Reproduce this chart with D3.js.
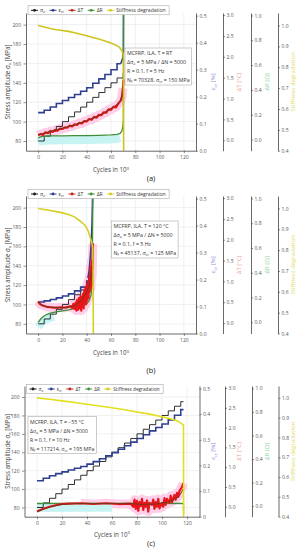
<!DOCTYPE html>
<html>
<head>
<meta charset="utf-8">
<script src="https://cdn.jsdelivr.net/npm/d3@7"></script>
<style>
body { margin: 0; background: #fff; }
svg { display: block; }
</style>
</head>
<body>
<svg id="fig" width="301" height="550"></svg>
<script>
// shared axes
const cycleTicks = [0, 20, 40, 60, 80, 100, 120];
const stressTicks = [80, 100, 120, 140, 160, 180, 200];
const strainTicks = [0, 0.1, 0.2, 0.3, 0.4, 0.5];
const tempTicks = [0, 0.5, 1, 1.5, 2, 2.5, 3];
const resTicks = [0, 0.2, 0.4, 0.6, 0.8, 1];
const stiffTicks = [0.4, 0.5, 0.6, 0.7, 0.8, 0.9, 1];
const legendLabels = ["σ_{a}", "ε_{cr}", "ΔT", "ΔR", "Stiffness degradation"];
const rightTitles = ["ε_{cr} [%]", "ΔT [°C]", "ΔR [Ω]", "Stiffness degradation"];
const blockSize = 5; // 10^3 cycles per load step

// (a) T = RT
const infoA = ["MCFRP, ILA, T = RT", "Δσ_{a} = 5 MPa / ΔN = 5000", "R = 0.1, f = 5 Hz", "N_{f} = 70328, σ_{cr} = 150 MPa"];
const failA = 70.33;
const stressA = [80, 85, 90, 95, 100, 105, 110, 115, 120, 125, 130, 135, 140, 145, 150];
const strainA = [0.141, 0.150, 0.162, 0.175, 0.186, 0.197, 0.208, 0.220, 0.233, 0.250, 0.266, 0.282, 0.300, 0.322];
const strainTailA = [[68, 0.322], [69.5, 0.34], [70.2, 0.37], [70.33, 0.56]];
const tempRawA = [[0, 0.12], [2, 0.15], [4, 0.13], [6, 0.19], [8, 0.17], [10, 0.22], [12, 0.2], [14, 0.25], [16, 0.23], [18, 0.28], [20, 0.27], [22, 0.31], [24, 0.3], [26, 0.35], [28, 0.33], [30, 0.38], [32, 0.37], [34, 0.42], [36, 0.4], [38, 0.46], [40, 0.45], [42, 0.51], [44, 0.49], [46, 0.56], [48, 0.54], [50, 0.61], [52, 0.6], [54, 0.67], [56, 0.66], [58, 0.74], [60, 0.73], [62, 0.8], [64, 0.79], [66, 0.88], [68, 0.95], [69, 1.05], [69.8, 1.25], [70.3, 1.45]];
const tempSmoothA = [[0, 0.13], [10, 0.21], [20, 0.29], [30, 0.37], [40, 0.47], [50, 0.59], [60, 0.76], [65, 0.86], [68, 0.95], [69.5, 1.1], [70.3, 1.4]];
const resA = [[0, 0.012], [2, 0.022], [5, 0.027], [10, 0.029], [20, 0.03], [30, 0.031], [40, 0.032], [50, 0.034], [60, 0.037], [65, 0.042], [67.5, 0.05], [69, 0.07], [69.8, 0.11], [70.2, 0.16], [70.33, 1.1]];
const stiffA = [[0, 1.0], [5, 0.993], [10, 0.986], [15, 0.98], [20, 0.976], [25, 0.972], [30, 0.965], [35, 0.958], [40, 0.951], [45, 0.943], [50, 0.935], [55, 0.926], [60, 0.916], [64, 0.906], [67, 0.895], [69, 0.88], [70, 0.862], [70.3, 0.83], [70.45, 0.3]];

// (b) T = 120 °C
const infoB = ["MCFRP, ILA, T = 120 °C", "Δσ_{a} = 5 MPa / ΔN = 5000", "R = 0.1, f = 5 Hz", "N_{f} = 45137, σ_{cr} = 125 MPa"];
const failB = 45.14;
const stressB = [80, 85, 90, 95, 100, 105, 110, 115, 120, 125];
const strainB = [0.117, 0.121, 0.126, 0.132, 0.139, 0.147, 0.158, 0.172, 0.195];
const strainTailB = [[41, 0.205], [42, 0.235], [42.7, 0.27], [43.5, 0.32], [44.3, 0.4], [45.14, 0.56]];
const tempRawB = [[0, 0.52], [1, 0.47], [2, 0.45], [3, 0.43], [5, 0.41], [7, 0.39], [10, 0.38], [13, 0.37], [16, 0.37], [19, 0.38], [22, 0.37], [25, 0.39], [27, 0.41], [28, 0.36], [29, 0.46], [30, 0.34], [31, 0.5], [31.5, 0.3], [32, 0.55], [33, 0.32], [33.5, 0.6], [34, 0.36], [35, 0.65], [35.5, 0.3], [36, 0.62], [36.5, 0.4], [37, 0.7], [37.5, 0.35], [38, 0.78], [38.5, 0.5], [39, 0.85], [39.5, 0.45], [40, 0.9], [40.5, 0.55], [41, 1.0], [41.5, 0.6], [42, 1.1], [42.5, 0.75], [43, 1.35], [43.5, 0.85], [44, 1.5], [44.5, 1.1], [45, 1.9], [45.1, 1.3]];
const tempSmoothB = [[0, 0.51], [3, 0.44], [6, 0.4], [10, 0.38], [15, 0.37], [20, 0.37], [25, 0.38], [30, 0.42], [34, 0.5], [37, 0.6], [40, 0.75], [42, 0.9], [43.5, 1.1], [44.5, 1.35], [45, 1.7]];
const resB = [[0, 0.0], [2, 0.025], [4, 0.045], [7, 0.063], [10, 0.074], [13, 0.081], [16, 0.086], [20, 0.093], [25, 0.1], [30, 0.112], [35, 0.126], [38, 0.138], [40, 0.15], [42, 0.175], [43.5, 0.22], [44.5, 0.33], [45.14, 1.1]];
const stiffB = [[0, 1.0], [5, 0.995], [10, 0.99], [15, 0.985], [20, 0.979], [25, 0.971], [30, 0.96], [34.5, 0.94], [38.6, 0.92], [41, 0.895], [42.7, 0.865], [44, 0.84], [45, 0.81], [45.3, 0.66], [45.5, 0.3]];

// (c) T = -55 °C
const infoC = ["MCFRP, ILA, T = −55 °C", "Δσ_{a} = 5 MPa / ΔN = 5000", "R = 0.1, f = 10 Hz", "N_{f} = 117214, σ_{cr} = 195 MPa"];
const failC = 117.2;
const stressC = [80, 85, 90, 95, 100, 105, 110, 115, 120, 125, 130, 135, 140, 145, 150, 155, 160, 165, 170, 175, 180, 185, 190, 195];
const strainC = [0.140, 0.150, 0.160, 0.168, 0.175, 0.182, 0.189, 0.196, 0.205, 0.215, 0.226, 0.238, 0.250, 0.263, 0.277, 0.291, 0.305, 0.320, 0.335, 0.348, 0.362, 0.378, 0.396, 0.418];
const strainTailC = [];
const tempRawC = [[0, -0.12], [5, -0.05], [10, 0.0], [15, 0.04], [20, 0.07], [25, 0.08], [35, 0.09], [45, 0.07], [55, 0.09], [65, 0.07], [75, 0.08], [77, 0.0], [78, 0.18], [79, -0.05], [80, 0.15], [81, -0.1], [82, 0.12], [83, 0.02], [84, 0.2], [85, -0.08], [86, 0.1], [87, 0.0], [88, 0.16], [89, -0.12], [90, 0.1], [92, 0.05], [93, 0.18], [94, -0.05], [95, 0.12], [96, 0.0], [97, 0.2], [98, -0.04], [100, 0.1], [101, 0.0], [102, 0.22], [103, 0.05], [104, 0.2], [106, 0.1], [107, 0.28], [108, 0.12], [110, 0.3], [111, 0.18], [112, 0.35], [113, 0.25], [114, 0.4], [115, 0.45], [116, 0.5], [117, 0.6]];
const tempSmoothC = [[0, -0.12], [5, -0.06], [10, -0.01], [15, 0.03], [20, 0.06], [25, 0.07], [30, 0.08], [50, 0.08], [75, 0.08], [85, 0.06], [95, 0.07], [105, 0.12], [110, 0.18], [114, 0.28], [117, 0.45]];
const resC = [[0, 0.022], [30, 0.024], [60, 0.024], [90, 0.023], [117.2, 0.022], [117.25, -0.06]];
const stiffC = [[0, 1.0], [10, 0.993], [20, 0.985], [30, 0.977], [40, 0.968], [50, 0.959], [60, 0.95], [70, 0.94], [80, 0.929], [90, 0.918], [100, 0.905], [105, 0.897], [110, 0.888], [113, 0.881], [116, 0.869], [117.2, 0.862], [117.3, 0.3]];

const font = "'Open Sans', 'DejaVu Sans', sans-serif";
const legendColors = ["#1a1a1a", "#2e3f91", "#c0281c", "#3f8f3a", "#d6cc1e"];
const titleColors = ["#8d91db", "#eda49c", "#8fd49a", "#e4da5a"];
const titleX = [213, 239, 267, 293];

const svg = d3.select("#fig").attr("font-family", font);

// writes "x_{sub}" / "x^{sup}" into tspans
function rich(sel, str, size) {
    const re = /([_^])\{([^}]*)\}/g;
    let last = 0, shift = 0, m;
    while ((m = re.exec(str))) {
        if (m.index > last) {
            sel.append("tspan").attr("dy", -shift).text(str.slice(last, m.index));
            shift = 0;
        }
        const s = m[1] === "_" ? size * 0.28 : -size * 0.4;
        sel.append("tspan").attr("font-size", size * 0.7).attr("dy", s - shift).text(m[2]);
        shift = s;
        last = re.lastIndex;
    }
    if (last < str.length) sel.append("tspan").attr("dy", -shift).text(str.slice(last));
}

function stepPoints(levels, stopAt) {
    const pts = [];
    levels.forEach((v, i) => {
        if (i * blockSize < stopAt) pts.push([i * blockSize, v]);
    });
    pts.push([stopAt, pts[pts.length - 1][1]]);
    return pts;
}

function styleAxis(sel, fs) {
    sel.select(".domain").attr("stroke", "#444").attr("stroke-width", 0.8);
    sel.selectAll(".tick line").attr("stroke", "#444").attr("stroke-width", 0.6);
    sel.selectAll(".tick text").attr("fill", "#555").attr("font-size", fs).attr("font-family", font);
}

function drawPanel(p) {
    const g = svg.append("g");
    const x = d3.scaleLinear().domain([-10, 130]).range([p.left, p.right]);
    const y = d3.scaleLinear().domain([70, 212]).range([p.bottom, p.top]);
    const yE = d3.scaleLinear().domain([0, 0.51]).range([p.bottom, p.top]);
    const yT = d3.scaleLinear().domain([-0.25, 3.05]).range([p.bottom, p.top]);
    const yR = d3.scaleLinear().domain([-0.09, 1.02]).range([p.bottom, p.top]);
    const yS = d3.scaleLinear().domain([0.4, 1.06]).range([p.bottom, p.top]);

    // grid
    g.append("g").selectAll("line").data(cycleTicks).join("line")
        .attr("x1", d => x(d)).attr("x2", d => x(d))
        .attr("y1", p.top).attr("y2", p.bottom)
        .attr("stroke", "#e6e6e6").attr("stroke-width", 0.6);
    g.append("g").selectAll("line").data(stressTicks).join("line")
        .attr("x1", p.left).attr("x2", p.right)
        .attr("y1", d => y(d)).attr("y2", d => y(d))
        .attr("stroke", "#e6e6e6").attr("stroke-width", 0.6);

    const clipId = "clip-" + p.id;
    svg.append("clipPath").attr("id", clipId).append("rect")
        .attr("x", p.left).attr("y", p.top)
        .attr("width", p.right - p.left).attr("height", p.bottom - p.top);
    const plot = g.append("g").attr("clip-path", `url(#${clipId})`);

    const line = ys => d3.line().x(d => x(d[0])).y(d => ys(d[1]));
    const stepLine = ys => d3.line().curve(d3.curveStepAfter).x(d => x(d[0])).y(d => ys(d[1]));

    // light bands behind temperature and resistance
    const pink = p.tempRaw.filter(d => d[0] >= p.pink[0] && d[0] <= p.pink[1]);
    plot.append("path").attr("d", line(yT)(pink))
        .attr("fill", "none").attr("stroke", "#ffc2e2").attr("stroke-width", 9)
        .attr("stroke-linejoin", "round").attr("opacity", 0.8);
    const cyan = p.res.filter(d => d[0] >= p.cyan[0] && d[0] <= p.cyan[1]);
    plot.append("path").attr("d", line(yR)(cyan)).attr("transform", "translate(0,4.5)")
        .attr("fill", "none").attr("stroke", "#c8f3f3").attr("stroke-width", 8);

    // stress amplitude
    plot.append("path").attr("d", stepLine(y)(stepPoints(p.stress, p.fail)))
        .attr("fill", "none").attr("stroke", "#1a1a1a").attr("stroke-width", 0.9);

    // creep strain
    const tailStart = p.strainTail.length ? p.strainTail[0][0] : p.fail;
    plot.append("path").attr("d", stepLine(yE)(stepPoints(p.strain, tailStart)))
        .attr("fill", "none").attr("stroke", "#2e3f91").attr("stroke-width", 1.6);
    if (p.strainTail.length) {
        plot.append("path").attr("d", line(yE)(p.strainTail))
            .attr("fill", "none").attr("stroke", "#2e3f91").attr("stroke-width", 1.6);
    }

    // resistance
    plot.append("path").attr("d", line(yR)(p.res))
        .attr("fill", "none").attr("stroke", "#3f8f3a").attr("stroke-width", 1.3);

    // temperature
    plot.append("path").attr("d", line(yT)(p.tempRaw))
        .attr("fill", "none").attr("stroke", "#e8161b").attr("stroke-width", 2.2)
        .attr("stroke-linejoin", "round");
    plot.append("path").attr("d", line(yT)(p.tempSmooth))
        .attr("fill", "none").attr("stroke", "#74351a").attr("stroke-width", 1);

    // stiffness
    plot.append("path").attr("d", line(yS)(p.stiff))
        .attr("fill", "none").attr("stroke", p.stiffColor).attr("stroke-width", 1.6);

    // left and bottom axes
    const ax = g.append("g").attr("transform", `translate(0,${p.bottom})`)
        .call(d3.axisBottom(x).tickValues(cycleTicks).tickSize(2.5).tickSizeOuter(0).tickPadding(2));
    styleAxis(ax, 5);
    const ay = g.append("g").attr("transform", `translate(${p.left},0)`)
        .call(d3.axisLeft(y).tickValues(stressTicks).tickSize(2.5).tickSizeOuter(0).tickPadding(2.5));
    styleAxis(ay, 5);

    // offset right axes
    const scales = [yE, yT, yR, yS];
    const ticks = [strainTicks, tempTicks, resTicks, stiffTicks];
    scales.forEach((s, i) => {
        const fmt = d => (p.id === "c" && i === 0 && d === 0) ? "0" : d3.format(".1f")(d);
        const ar = g.append("g").attr("transform", `translate(${p.axes[i]},0)`)
            .call(d3.axisRight(s).tickValues(ticks[i]).tickSize(2).tickSizeOuter(0).tickPadding(1.5).tickFormat(fmt));
        styleAxis(ar, 5);
        const t = g.append("text")
            .attr("transform", `translate(${titleX[i]},${(p.top + p.bottom) / 2}) rotate(-90)`)
            .attr("text-anchor", "middle").attr("dominant-baseline", "central")
            .attr("font-size", 6).attr("fill", titleColors[i]);
        rich(t, rightTitles[i], 6);
    });

    // axis titles and caption
    const yt = g.append("text")
        .attr("transform", `translate(7,${(p.top + p.bottom) / 2}) rotate(-90)`)
        .attr("text-anchor", "middle").attr("dominant-baseline", "central")
        .attr("font-size", 6.2).attr("fill", "#444");
    rich(yt, "Stress amplitude σ_{a} [MPa]", 6.2);
    const xt = g.append("text").attr("x", (p.left + p.right) / 2).attr("y", p.xTitleY)
        .attr("text-anchor", "middle").attr("font-size", 6.2).attr("fill", "#444");
    rich(xt, "Cycles in 10^{3}", 6.2);
    g.append("text").attr("x", 151).attr("y", p.captionY).attr("text-anchor", "middle")
        .attr("font-size", 7.5).attr("fill", "#222").text(p.caption);

    // legend
    const lg = g.append("g");
    let cx = p.left + 5;
    legendLabels.forEach((lab, i) => {
        lg.append("line").attr("x1", cx).attr("x2", cx + 7)
            .attr("y1", p.legendY).attr("y2", p.legendY)
            .attr("stroke", legendColors[i]).attr("stroke-width", 1);
        lg.append("circle").attr("cx", cx + 3.5).attr("cy", p.legendY).attr("r", 1.4)
            .attr("fill", legendColors[i]);
        const t = lg.append("text").attr("x", cx + 9).attr("y", p.legendY + 1.7)
            .attr("font-size", p.legendFont).attr("fill", "#333");
        rich(t, lab, p.legendFont);
        cx += 9 + t.node().getComputedTextLength() + 4.5;
    });
    lg.insert("rect", ":first-child")
        .attr("x", p.left + 2).attr("y", p.legendY - 4.5)
        .attr("width", cx - p.left - 3).attr("height", 9)
        .attr("fill", "#fff").attr("stroke", "#999").attr("stroke-width", 0.5);

    // info box
    const ib = g.append("g");
    let w = 0;
    p.info.forEach((s, i) => {
        const t = ib.append("text").attr("x", p.infoPos[0] + 2).attr("y", p.infoPos[1] + 7 + i * 9)
            .attr("font-size", p.infoFont).attr("fill", "#333");
        rich(t, s, p.infoFont);
        w = Math.max(w, t.node().getComputedTextLength());
    });
    ib.insert("rect", ":first-child")
        .attr("x", p.infoPos[0]).attr("y", p.infoPos[1])
        .attr("width", w + 4).attr("height", 37)
        .attr("fill", "#fff").attr("stroke", "#999").attr("stroke-width", 0.5);
}

const panels = [
    { id: "a", left: 26, right: 196, top: 13, bottom: 150.7, axes: [196, 223, 251, 278],
      legendY: 10.3, legendFont: 5, info: infoA, infoPos: [125, 48], infoFont: 5.3,
      xTitleY: 172, captionY: 180.5, caption: "(a)", fail: failA,
      stress: stressA, strain: strainA, strainTail: strainTailA, tempRaw: tempRawA, tempSmooth: tempSmoothA,
      res: resA, stiff: stiffA, pink: [0, 70], cyan: [0, 68], stiffColor: "#cfc41c" },
    { id: "b", left: 26, right: 196, top: 196, bottom: 333.5, axes: [196, 223, 251, 278],
      legendY: 194, legendFont: 5, info: infoB, infoPos: [111.5, 221], infoFont: 5.3,
      xTitleY: 355, captionY: 373, caption: "(b)", fail: failB,
      stress: stressB, strain: strainB, strainTail: strainTailB, tempRaw: tempRawB, tempSmooth: tempSmoothB,
      res: resB, stiff: stiffB, pink: [0, 45], cyan: [0, 14], stiffColor: "#d5d021" },
    { id: "c", left: 24.5, right: 199.5, top: 386, bottom: 516.7, axes: [199.5, 225, 252, 278.5],
      legendY: 389, legendFont: 4.7, info: infoC, infoPos: [28, 416.5], infoFont: 5.2,
      xTitleY: 536.5, captionY: 545.5, caption: "(c)", fail: failC,
      stress: stressC, strain: strainC, strainTail: strainTailC, tempRaw: tempRawC, tempSmooth: tempSmoothC,
      res: resC, stiff: stiffC, pink: [33, 117.2], cyan: [0, 75], stiffColor: "#e2df1c" }
];

panels.forEach(drawPanel);
</script>
</body>
</html>
